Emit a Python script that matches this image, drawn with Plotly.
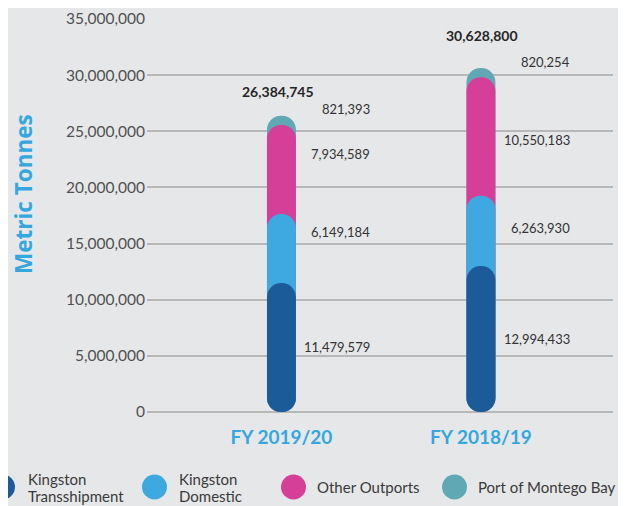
import plotly.graph_objects as go

# ---------------- data ----------------
categories = ["FY 2019/20", "FY 2018/19"]
series_names = ["Kingston Transshipment", "Kingston Domestic", "Other Outports", "Port of Montego Bay"]
kingston_transshipment = [11479579, 12994433]
kingston_domestic = [6149184, 6263930]
other_outports = [7934589, 10550183]
port_of_montego_bay = [821393, 820254]
totals = [26384745, 30628800]
y_tick_values = [0, 5000000, 10000000, 15000000, 20000000, 25000000, 30000000, 35000000]

# ---------------- style ----------------
COLORS = ["#1b5b98", "#3ea9e0", "#d63f97", "#5fa8b4"]
BG = "#e6e7e9"
GRID = "#b8b8b8"
FONT = "Lato"
TEXT = "#333333"
BAR_W = 0.145
OFF = 8                      # page body margin of the html page
W, H = 626 - OFF, 506 - OFF
# plot area in page pixels
PX0, PX1, PY0, PY1 = 147, 613, 19, 412
PW, PH = PX1 - PX0, PY1 - PY0
ML, MT = PX0 - OFF, PY0 - OFF
MR, MB = W - ML - PW, H - MT - PH


def px(xp):
    return (xp - PX0) / PW


def py(yp):
    return (PY1 - yp) / PH


# label pixel nudges (style only): per series, per bar
label_yshift = [[1, 0], [17, 3], [16, -3], [11, 11]]
total_yshift = [24, 33]
total_xshift = [-3, 1]

series = [kingston_transshipment, kingston_domestic, other_outports, port_of_montego_bay]

cum = []
run = [0, 0]
for s in series:
    run = [a + b for a, b in zip(run, s)]
    cum.append(run)
bases = [0, 0]

fig = go.Figure()
# each segment is a capsule from the base to its cumulative top, drawn back to front
for i in [3, 2, 1, 0]:
    fig.add_trace(go.Bar(
        x=categories, y=[c - b for c, b in zip(cum[i], bases)], base=bases,
        width=BAR_W, marker=dict(color=COLORS[i], cornerradius="50%", line=dict(width=0)),
        name=series_names[i], showlegend=False, hoverinfo="skip"))

annotations = []
for i, s in enumerate(series):
    for j, cat in enumerate(categories):
        mid = cum[i][j] - s[j] / 2
        annotations.append(dict(
            x=cat, y=mid, xref="x", yref="y", text=f"{s[j]:,}", showarrow=False,
            xanchor="right", yanchor="middle", xshift=91, yshift=label_yshift[i][j],
            font=dict(family=FONT, size=13, color=TEXT)))
for j, cat in enumerate(categories):
    annotations.append(dict(
        x=cat, y=totals[j], xref="x", yref="y", text=f"{totals[j]:,}", showarrow=False,
        xanchor="center", yanchor="middle", xshift=total_xshift[j], yshift=total_yshift[j],
        font=dict(family=FONT, size=14, color="#262626", weight="bold")))

annotations.append(dict(
    x=px(23), y=py(194), xref="paper", yref="paper",
    text="Metric Tonnes", textangle=-90, showarrow=False,
    xanchor="center", yanchor="middle",
    font=dict(family="Open Sans", size=22.5, color="#34a7df", weight="bold")))

legend_cx = [2.5, 154.5, 293.5, 454.5]
legend_tx = [26, 177, 315, 476]
legend_lines = [["Kingston", "Transshipment"], ["Kingston", "Domestic"], ["Other Outports"], ["Port of Montego Bay"]]
legend_cy = 487
shapes = []
for k in range(4):
    shapes.append(dict(
        type="circle", xref="paper", yref="paper",
        xsizemode="pixel", ysizemode="pixel",
        xanchor=px(legend_cx[k]), yanchor=py(legend_cy),
        x0=-12.5, x1=12.5, y0=-12.5, y1=12.5,
        fillcolor=COLORS[k], line=dict(width=0)))
    lines = legend_lines[k]
    ys = [legend_cy] if len(lines) == 1 else [legend_cy - 8, legend_cy + 9]
    for t, yy in zip(lines, ys):
        annotations.append(dict(
            x=px(legend_tx[k]), y=py(yy), xref="paper", yref="paper",
            text=t, showarrow=False, xanchor="left", yanchor="middle",
            font=dict(family=FONT, size=15, color="#3a3a3a")))

fig.update_layout(
    width=W, height=H,
    margin=dict(l=ML, r=MR, t=MT, b=MB, pad=0, autoexpand=False),
    paper_bgcolor=BG, plot_bgcolor=BG,
    barmode="overlay",
    showlegend=False,
    annotations=annotations,
    shapes=shapes,
    xaxis=dict(
        type="category", range=[-0.674, 1.662], showgrid=False, zeroline=False,
        showline=False, ticks="", ticklabelstandoff=12, automargin=False,
        tickfont=dict(family=FONT, size=19, color="#34a7df", weight="bold")),
    yaxis=dict(
        range=[0, 35000000], tickvals=y_tick_values, tickformat=",",
        showgrid=True, gridcolor=GRID, gridwidth=1.5,
        zeroline=True, zerolinecolor=GRID, zerolinewidth=1.5,
        showline=False, ticks="", ticklabelstandoff=1, automargin=False,
        tickfont=dict(family=FONT, size=15.5, color="#505050")),
)

fig.write_html("out.html")
